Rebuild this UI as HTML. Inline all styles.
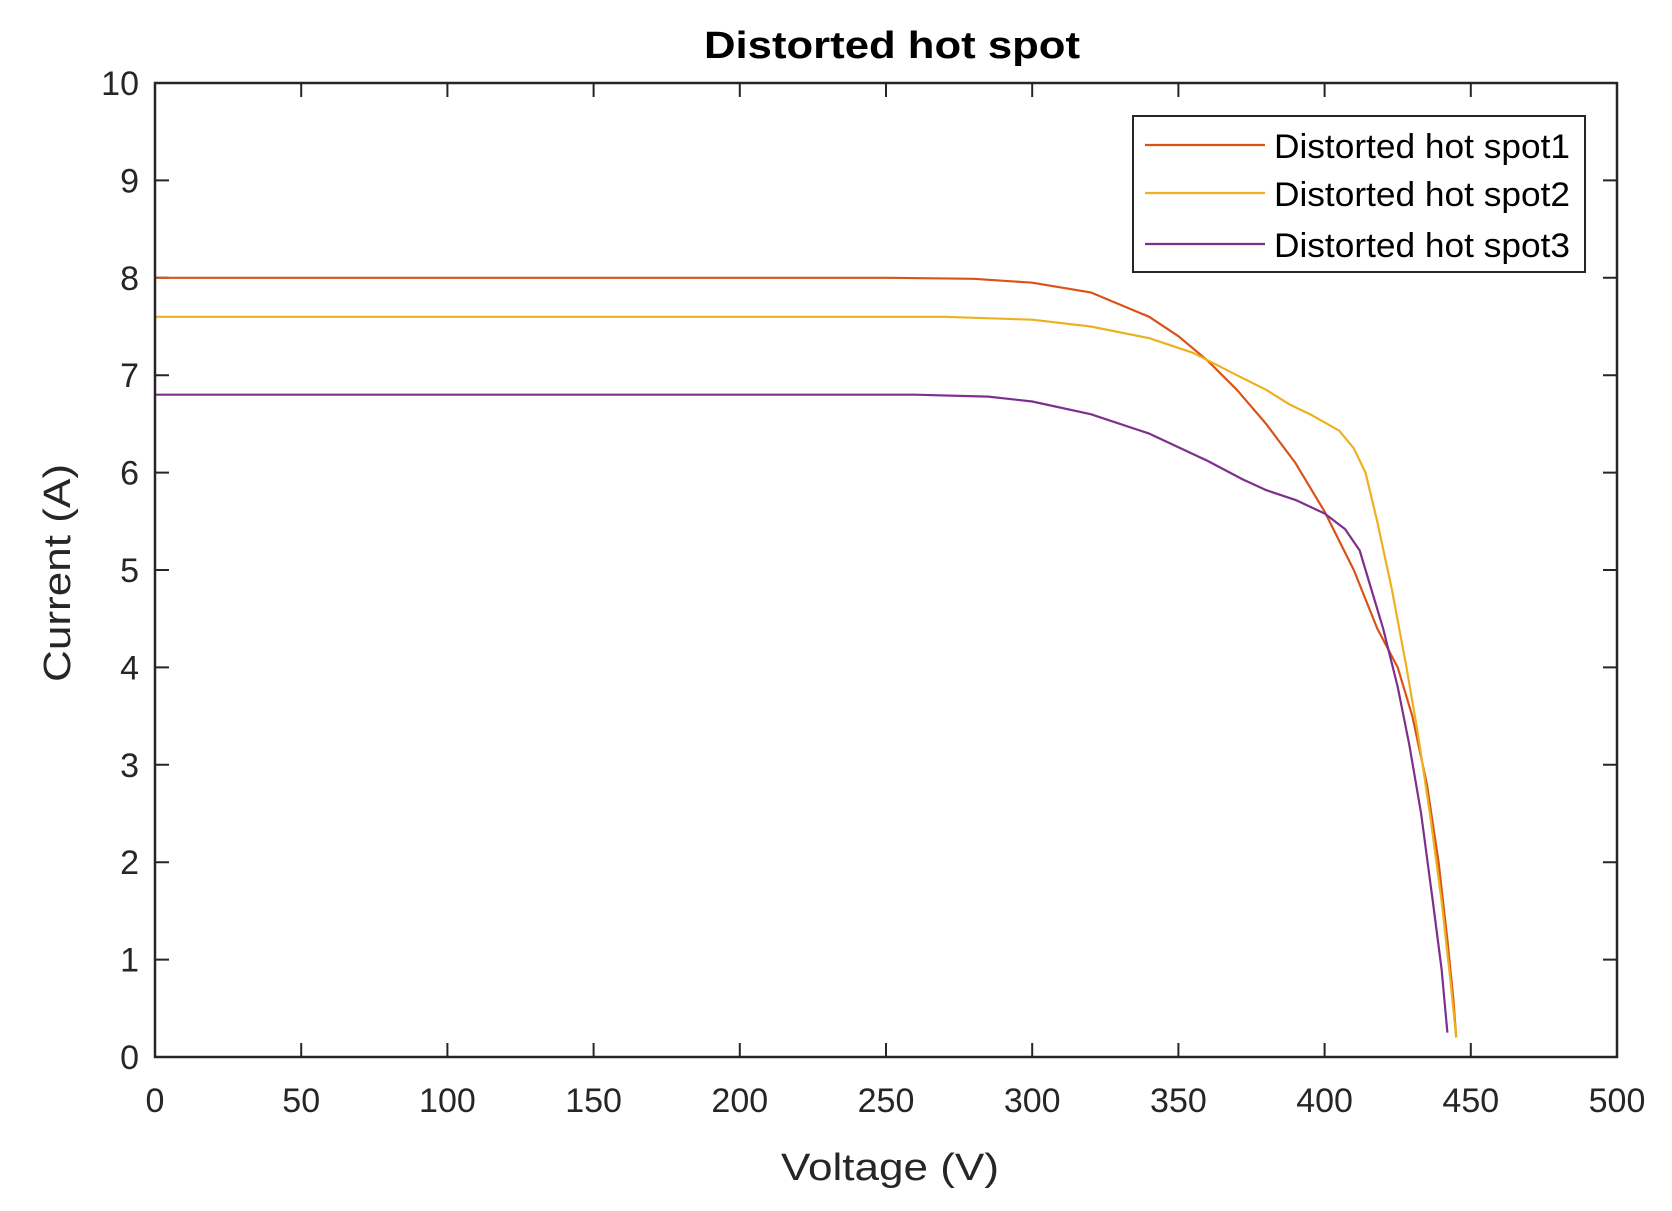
<!DOCTYPE html>
<html><head><meta charset="utf-8"><style>
html,body{margin:0;padding:0;background:#fff;}
svg{display:block;font-family:"Liberation Sans",Arial,sans-serif;}
</style></head><body>
<svg width="1672" height="1211" viewBox="0 0 1672 1211" xmlns="http://www.w3.org/2000/svg">
<rect width="1672" height="1211" fill="#fff"/>
<g stroke="#262626" stroke-width="2">
<path d="M155,1057v-14M301.2,1057v-14M447.4,1057v-14M593.6,1057v-14M739.8,1057v-14M886,1057v-14M1032.2,1057v-14M1178.4,1057v-14M1324.6,1057v-14M1470.8,1057v-14M1617,1057v-14
M155,83v14M301.2,83v14M447.4,83v14M593.6,83v14M739.8,83v14M886,83v14M1032.2,83v14M1178.4,83v14M1324.6,83v14M1470.8,83v14M1617,83v14
M155,1057h14M155,959.6h14M155,862.2h14M155,764.8h14M155,667.4h14M155,570h14M155,472.6h14M155,375.2h14M155,277.8h14M155,180.4h14M155,83h14
M1617,1057h-14M1617,959.6h-14M1617,862.2h-14M1617,764.8h-14M1617,667.4h-14M1617,570h-14M1617,472.6h-14M1617,375.2h-14M1617,277.8h-14M1617,180.4h-14M1617,83h-14"/>
</g>
<g fill="none" stroke-width="2.2" stroke-linejoin="round">
<polyline stroke="#D95319" points="155,277.8 886,277.8 973.7,278.8 1032.2,282.7 1090.7,292.4 1149.2,316.8 1178.4,336.2 1207.6,360.6 1236.9,389.8 1266.1,423.9 1295.4,462.9 1324.6,511.6 1353.8,570 1377.2,628.4 1397.7,667.4 1412.3,716.1 1426.9,784.3 1438.6,862.2 1447.4,940.1 1453.3,998.6 1456.2,1037.5"/>
<polyline stroke="#EDB120" points="155,316.8 944.5,316.8 1032.2,319.7 1090.7,326.5 1149.2,338.2 1193,352.8 1236.9,375.2 1266.1,389.8 1289.5,404.4 1310,414.2 1339.2,430.7 1353.8,448.3 1365.5,472.6 1377.2,521.3 1391.9,589.5 1406.5,667.4 1418.2,735.6 1429.9,813.5 1441.6,901.2 1450.3,979.1 1456.2,1037.5"/>
<polyline stroke="#7E2F8E" points="155,394.7 915.2,394.7 988.3,396.6 1032.2,401.5 1090.7,414.2 1149.2,433.6 1207.6,460.9 1242.7,479.4 1266.1,490.1 1295.4,499.9 1324.6,513.5 1345.1,529.1 1359.7,550.5 1371.4,589.5 1383.1,628.4 1397.7,686.9 1409.4,745.3 1421.1,813.5 1432.8,901.2 1441.6,969.3 1447.4,1032.6"/>
</g>
<rect x="155" y="83" width="1462" height="974" fill="none" stroke="#262626" stroke-width="2.5"/>
<g fill="#262626" font-size="34" text-anchor="middle">
<text x="155" y="1112">0</text><text x="301.2" y="1112">50</text><text x="447.4" y="1112">100</text><text x="593.6" y="1112">150</text><text x="739.8" y="1112">200</text><text x="886" y="1112">250</text><text x="1032.2" y="1112">300</text><text x="1178.4" y="1112">350</text><text x="1324.6" y="1112">400</text><text x="1470.8" y="1112">450</text><text x="1617" y="1112">500</text>
</g>
<g fill="#262626" font-size="34" text-anchor="end">
<text x="139" y="1069">0</text><text x="139" y="971.6">1</text><text x="139" y="874.2">2</text><text x="139" y="776.8">3</text><text x="139" y="679.4">4</text><text x="139" y="582">5</text><text x="139" y="484.6">6</text><text x="139" y="387.2">7</text><text x="139" y="289.8">8</text><text x="139" y="192.4">9</text><text x="139" y="95">10</text>
</g>
<text x="892" y="58" text-anchor="middle" font-weight="bold" font-size="38" textLength="376" lengthAdjust="spacingAndGlyphs" fill="#000">Distorted hot spot</text>
<text x="890" y="1180" text-anchor="middle" font-size="38" textLength="218" lengthAdjust="spacingAndGlyphs" fill="#262626">Voltage (V)</text>
<text transform="translate(70,573) rotate(-90)" text-anchor="middle" font-size="38" textLength="218" lengthAdjust="spacingAndGlyphs" fill="#262626">Current (A)</text>
<rect x="1133" y="116" width="452" height="156" fill="#fff" stroke="#262626" stroke-width="2"/>
<line x1="1145" y1="145" x2="1265" y2="145" stroke="#D95319" stroke-width="2.2"/>
<line x1="1145" y1="193" x2="1265" y2="193" stroke="#EDB120" stroke-width="2.2"/>
<line x1="1145" y1="244" x2="1265" y2="244" stroke="#7E2F8E" stroke-width="2.2"/>
<g font-size="34" fill="#000">
<text x="1274" y="158" textLength="296" lengthAdjust="spacingAndGlyphs">Distorted hot spot1</text>
<text x="1274" y="206" textLength="296" lengthAdjust="spacingAndGlyphs">Distorted hot spot2</text>
<text x="1274" y="257" textLength="296" lengthAdjust="spacingAndGlyphs">Distorted hot spot3</text>
</g>
</svg>
</body></html>
